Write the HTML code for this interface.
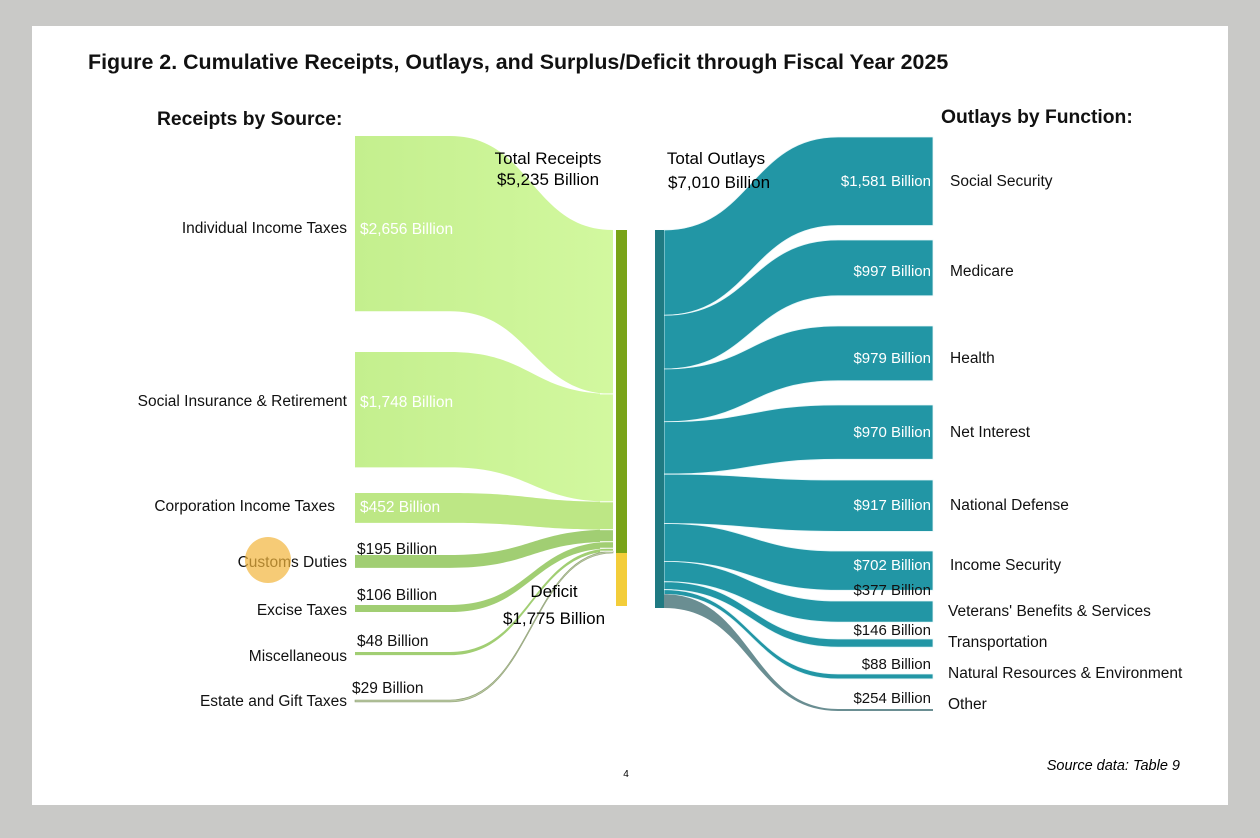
<!DOCTYPE html>
<html><head><meta charset="utf-8">
<style>
body{margin:0;background:#c9c9c7;width:1260px;height:833px;overflow:hidden;font-family:"Liberation Sans",Arial,sans-serif}
svg text{font-family:"Liberation Sans",Arial,sans-serif}
</style></head>
<body>
<svg id="chart" width="1260" height="833">
<defs>
<linearGradient id="gl" x1="0" x2="1" y1="0" y2="0"><stop offset="0" stop-color="#c4ef8e"/><stop offset="1" stop-color="#d2f89f"/></linearGradient>
</defs>
<rect x="32" y="26" width="1196" height="779" fill="#ffffff"/>
<g id="flows"></g>
<text x="88" y="69" font-size="21.4" font-weight="bold" fill="#111">Figure 2. Cumulative Receipts, Outlays, and Surplus/Deficit through Fiscal Year 2025</text>
<text x="157" y="125" font-size="19.3" font-weight="bold" fill="#111">Receipts by Source:</text>
<text x="941" y="123" font-size="19.3" font-weight="bold" fill="#111">Outlays by Function:</text>
<text x="548" y="164" font-size="17" text-anchor="middle">Total Receipts</text>
<text x="548" y="185" font-size="17" text-anchor="middle">$5,235 Billion</text>
<text x="716" y="164" font-size="17" text-anchor="middle">Total Outlays</text>
<text x="719" y="188" font-size="17" text-anchor="middle">$7,010 Billion</text>
<text x="554" y="597" font-size="17" text-anchor="middle">Deficit</text>
<text x="554" y="624" font-size="17" text-anchor="middle">$1,775 Billion</text>
<text x="626" y="777" font-size="10" text-anchor="middle">4</text>
<text x="1180" y="770" font-size="14.5" font-style="italic" text-anchor="end">Source data: Table 9</text>
<g id="labels"></g>
<circle cx="268" cy="560" r="23" fill="#f2b53c" opacity="0.7"/>
</svg>
<script>
const recNames=["Individual Income Taxes","Social Insurance & Retirement","Corporation Income Taxes","Customs Duties","Excise Taxes","Miscellaneous","Estate and Gift Taxes"];
const recValues=[2656,1748,452,195,106,48,29];
const recTops=[136,352,493,555,605,652,700];
const outNames=["Social Security","Medicare","Health","Net Interest","National Defense","Income Security","Veterans' Benefits & Services","Transportation","Natural Resources & Environment","Other"];
const outValues=[1581,997,979,970,917,702,377,146,88,254];
const outTops=[137,240,326,405,480,551,601,639,674,709];
const deficitValue=1775;

const NS="http://www.w3.org/2000/svg";
const g=document.getElementById('flows');
const gl=document.getElementById('labels');
function el(t,a,parent){const e=document.createElementNS(NS,t);for(const k in a)e.setAttribute(k,a[k]);(parent||g).appendChild(e);return e;}
function fmt(v){return "$"+v.toLocaleString("en-US")+" Billion";}
function band(x0,t0,b0,x1,t1,b1,flat0,flat1){
  const xa=x0+flat0, xb=x1-flat1, m=(xa+xb)/2;
  return `M${x0},${t0} L${xa},${t0} C${m},${t0} ${m},${t1} ${xb},${t1} L${x1},${t1} L${x1},${b1} L${xb},${b1} C${m},${b1} ${m},${b0} ${xa},${b0} L${x0},${b0} Z`;
}
// receipts
const kL=0.066, cTop=230, cRecEnd=553, cBot=606;
const recTotal=recValues.reduce((a,b)=>a+b,0);
const kC=(cRecEnd-cTop)/recTotal;
let cy=cTop;
recValues.forEach((v,i)=>{
  const h=Math.max(1.5,v*kL), t=recTops[i], ch=v*kC;
  const p=el('path',{d:band(355,t,t+h,613,cy,cy+ch,95,0),fill:i<2?'url(#gl)':(i<3?'#bde785':(i<6?'#9ccb6c':'#b5c79a')),stroke:i==6?'#8a9a70':'none','stroke-width':0.6,opacity:i<3?1:0.95});
  
  
  if(i>0){el('line',{x1:600,x2:613,y1:cy,y2:cy,stroke:'#fff','stroke-width':1});}
  cy+=ch;
  const ly=[228,401,506,562,610,656,701][i];
  const lab=el('text',{x:i==2?335:347,y:ly+5,'font-size':15.5,'text-anchor':'end',fill:'#111'},gl);
  lab.textContent=recNames[i];
  
  
  const vt=el('text',{x:i<3?360:(i==6?352:357),y:i<3?ly+6:[549,595,641,688][i-3]+5,'font-size':15.5,fill:i<3?'#fff':'#111'},gl);
  vt.textContent=fmt(v);
  
  
});
const rb=el('rect',{x:616,y:cTop,width:11,height:cRecEnd-cTop,fill:'#79a318'});


const db=el('rect',{x:616,y:cRecEnd,width:11,height:cBot-cRecEnd,fill:'#f3cd3a'});


// outlays
const oTop=230,oBot=608;
const outTotal=outValues.reduce((a,b)=>a+b,0);
const kO=(oBot-oTop)/outTotal, kR=0.056;
let oy=oTop;
outValues.forEach((v,i)=>{
  const oh=v*kO, t=outTops[i], h=i==9?2:v*kR;
  const p=el('path',{d:band(664,oy,oy+oh,933,t,t+h,0,95),fill:i==9?'#6a8e92':'#2296a5',stroke:'#e8f7f9','stroke-width':i==9?0:0.8});
  
  
  oy+=oh;
  const ly=[181,271,358,432,505,565,611,642,673,704][i];
  const lab=el('text',{x:i<6?950:948,y:ly+5,'font-size':15.5,fill:'#111'},gl);
  lab.textContent=outNames[i];
  
  
  const vy=i<6?ly+5:[590,630,664,698][i-6]+5;
  const vt=el('text',{x:931,y:vy,'font-size':15,'text-anchor':'end',fill:i<6?'#fff':'#111'},gl);
  vt.textContent=fmt(v);
  
  
});
const ob=el('rect',{x:655,y:oTop,width:9,height:oBot-oTop,fill:'#1f7a82'});


</script>
</body></html>
